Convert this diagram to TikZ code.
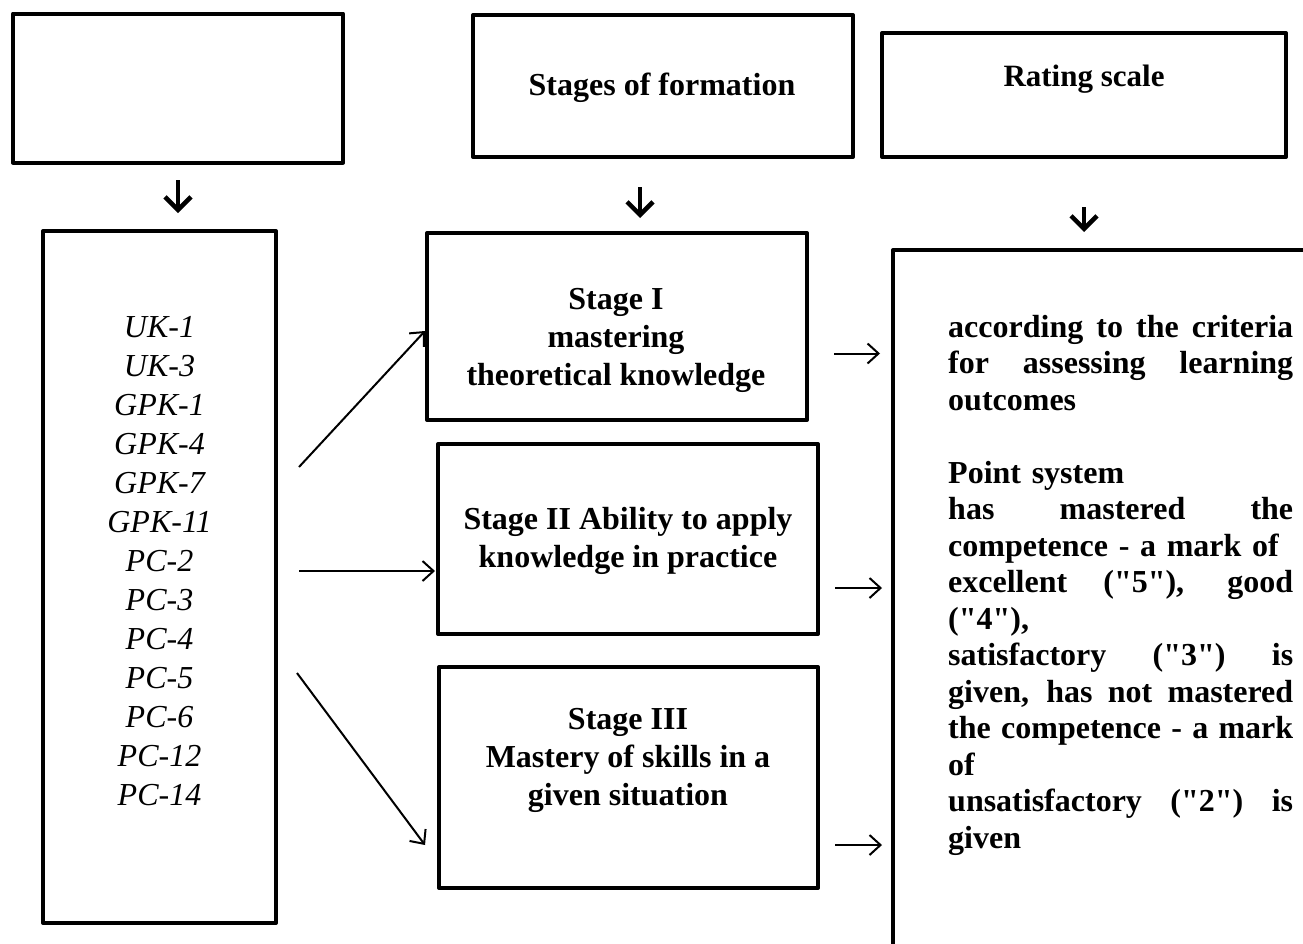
\documentclass[tikz,border=0pt]{standalone}
\usepackage{fontspec}
\setmainfont{Liberation Serif}
\newfontfamily\plainserif{Liberation Serif}
\usetikzlibrary{arrows.meta}
\newcommand{\jline}[1]{\leavevmode\hbox to 345pt{\spaceskip=0.25em plus 1fil\relax #1}}
\tikzset{
	box/.style={draw, line width=4pt, line join=round, inner sep=0pt},
	stagetext/.style={font=\fontsize{32}{38}\selectfont\bfseries, align=center},
	downarr/.style={line width=4.5pt, -{Straight Barb[length=13pt,width=26pt]}},
	thinarr/.style={line width=2pt, -{Straight Barb[length=11pt,width=20pt]}}
}

\begin{document}
\begin{tikzpicture}[x=1pt,y=-1pt]
	\useasboundingbox (0,0) rectangle (1303,943);
	\foreach \N/\X/\Y/\W/\H in {boxA/178/88/330/149, boxB/663/86/380/142, boxC/1084/95/404/124, boxD/159.5/577/233/692, boxE/617/326.5/380/187, boxF/628/539/380/190, boxG/628.5/777.5/379/221}
	{\node[box, minimum width=\W pt, minimum height=\H pt] (\N) at (\X,\Y) {};}
	\coordinate (hcorner) at (893,250);
	\draw[box] (1306,250) -- (hcorner) -- (893,946);
	% labels
	\node[font=\fontsize{32}{38}\selectfont\bfseries] (formLabel) at (662,88) {Stages of formation};
	\node[font=\fontsize{31}{38}\selectfont\bfseries] (scaleLabel) at (1084,79) {Rating scale};
	\node[font=\fontsize{32}{39}\selectfont\itshape, align=center] (compList) at (159.5,561)
		{UK-1\\UK-3\\GPK-1\\GPK-4\\GPK-7\\GPK-11\\PC-2\\PC-3\\PC-4\\PC-5\\PC-6\\PC-12\\PC-14};
	\node[stagetext] (stageOne) at (616,340) {Stage I\\mastering\\theoretical knowledge};
	\node[stagetext] (stageTwo) at (628,541) {Stage II Ability to apply\\knowledge in practice};
	\node[stagetext] (stageThree) at (628,760) {Stage III\\Mastery of skills in a\\given situation};
	\node[font=\plainserif\fontsize{32}{36.5}\selectfont\bfseries, align=left, anchor=north west, inner sep=0pt, text width=345pt] (rateText) at (948,315)
		{\jline{according to the criteria}\\
		\jline{for assessing learning}\\
		outcomes\\[36.5pt]
		Point system\\
		\jline{has mastered the}\\
		competence - a mark of\\
		\jline{excellent ("5"), good}\\
		("4"),\\
		\jline{satisfactory ("3") is}\\
		\jline{given, has not mastered}\\
		\jline{the competence - a mark}\\
		of\\
		\jline{unsatisfactory ("2") is}\\
		given};
	% arrows
	\draw[downarr, shorten <=15.5pt, shorten >=16pt] (boxA.south) -- (boxA.south |- boxD.north);
	\draw[downarr, shorten <=28pt, shorten >=13pt] ([xshift=-23pt]boxB.south) -- ([xshift=23pt]boxE.north);
	\draw[downarr, shorten <=48pt, shorten >=18pt] (boxC.south) -- (boxC.south |- hcorner);
	\draw[thinarr] ([shift={(21pt,110pt)}]boxD.east) -- ([yshift=-4.5pt]boxE.west);
	\draw[thinarr] ([shift={(21pt,6pt)}]boxD.east) -- ([shift={(-1pt,-32pt)}]boxF.west);
	\draw[thinarr] ([shift={(19pt,-96pt)}]boxD.east) -- ([shift={(-12pt,-67.5pt)}]boxG.west);
	\foreach \B/\S/\E/\Y in {boxE/25/71/-27, boxF/15/62/-49, boxG/15/62/-67.5}
	{\draw[thinarr] ([shift={(\S pt,\Y pt)}]\B.east) -- ([shift={(\E pt,\Y pt)}]\B.east);}
\end{tikzpicture}
\end{document}
